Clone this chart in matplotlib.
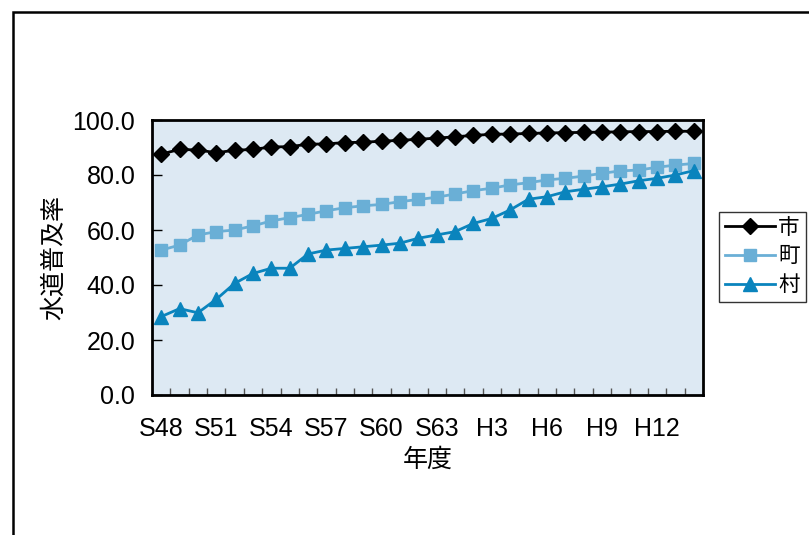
import numpy as np
import matplotlib.pyplot as plt
from matplotlib.patches import Rectangle

plt.rcParams['font.family'] = ['Liberation Sans', 'Noto Sans CJK JP', 'DejaVu Sans']

# 年度 S48 .. S63, H1 .. H14
years = ["S%d" % y for y in range(48, 64)] + ["H%d" % y for y in range(1, 15)]

city = [87.6, 89.3, 89.1, 88.1, 89.0, 89.3, 90.2, 90.3, 91.2, 91.3,
        91.8, 91.9, 92.3, 92.6, 93.0, 93.4, 93.9, 94.4, 94.8, 94.9,
        95.1, 95.3, 95.4, 95.5, 95.6, 95.7, 95.8, 95.8, 95.9, 95.9]
town = [52.7, 54.5, 58.2, 59.4, 60.0, 61.5, 63.3, 64.5, 65.7, 67.0,
        68.1, 68.8, 69.3, 70.3, 71.1, 71.9, 73.1, 74.3, 75.2, 76.4,
        77.2, 78.2, 78.8, 79.6, 80.6, 81.5, 81.8, 82.8, 83.6, 84.2]
village = [28.5, 31.4, 29.9, 34.8, 40.6, 44.2, 46.1, 46.1, 51.3, 52.7,
           53.3, 53.9, 54.5, 55.2, 57.0, 58.2, 59.4, 62.4, 64.2, 67.3,
           71.2, 72.1, 73.9, 74.8, 75.7, 76.7, 77.9, 78.8, 80.0, 81.6]

FS = 18

fig = plt.figure(figsize=(8.09, 5.35), dpi=100)
ax = fig.add_axes([152 / 809, 1 - 395 / 535, 551 / 809, 275 / 535])
ax.set_facecolor('#dde9f3')

x = np.arange(len(years))
ax.plot(x, city, color='black', marker='D', markersize=8.5, lw=2, label='市')
ax.plot(x, town, color='#6aafd6', marker='s', markersize=9, lw=2, label='町')
ax.plot(x, village, color='#0a84bd', marker='^', markersize=10, lw=2, label='村')

ax.set_xlim(-0.5, len(years) - 0.5)
ax.set_ylim(0, 100)
ax.set_yticks(np.arange(0, 101, 20))
ax.set_yticklabels(["%.1f" % v for v in np.arange(0, 101, 20)])
ax.set_xticks(x[::3])
ax.set_xticklabels(years[::3])
# tick marks sit between the categories
ax.set_xticks(x[:-1] + 0.5, minor=True)
ax.tick_params(axis='x', which='major', length=0, pad=16, labelsize=FS)
ax.tick_params(axis='x', which='minor', direction='in', length=5, width=1, color='#555555')
ax.tick_params(axis='y', direction='in', length=7, width=1, pad=12, labelsize=FS)
for s in ax.spines.values():
    s.set_linewidth(2)

ax.set_ylabel('水道普及率', fontsize=FS, labelpad=5)
ax.set_xlabel('年度', fontsize=FS, labelpad=5)

leg = ax.legend(loc='center left', bbox_to_anchor=(719 / 809, 1 - 257 / 535),
                bbox_transform=fig.transFigure, fontsize=15.5, frameon=True,
                fancybox=False, edgecolor='black', handlelength=2.3,
                handletextpad=0.15, borderpad=0.3, labelspacing=0.35,
                borderaxespad=0)
leg.get_frame().set_linewidth(1)

# chart border
fig.patches.append(Rectangle((13 / 809, -0.1), 1.2, 1 - 12 / 535 + 0.1,
                             transform=fig.transFigure, fill=False,
                             edgecolor='black', lw=1.8))

fig.savefig('out.png', dpi=100)
